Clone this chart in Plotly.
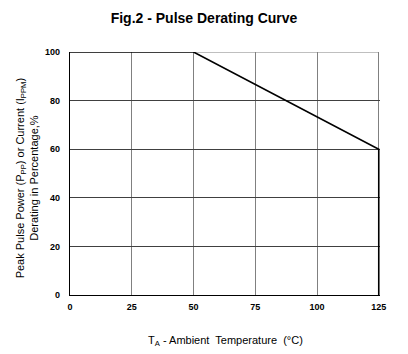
import plotly.graph_objects as go

temps = [0, 50, 125, 125]
derating = [100, 100, 60, 0]
x_ticks = [0, 25, 50, 75, 100, 125]
y_ticks = [0, 20, 40, 60, 80, 100]

fig = go.Figure()
fig.add_trace(go.Scatter(x=temps, y=derating, mode="lines",
                         line=dict(color="black", width=1.6), showlegend=False))

font = "Liberation Sans, Arial, sans-serif"
fig.update_layout(
    width=408, height=354,
    margin=dict(l=70, r=28, t=52, b=59),
    paper_bgcolor="white", plot_bgcolor="white",
    font=dict(family=font, color="black"),
    title=dict(text="<b>Fig.2 - Pulse Derating Curve</b>", x=0.5, xanchor="center",
               y=1 - 18/354, yanchor="middle", font=dict(size=14, family=font)),
    xaxis=dict(range=[0, 125.5], tickvals=x_ticks, ticktext=[f"<b>{v}</b>" for v in x_ticks],
               showgrid=True, gridcolor="#808080", gridwidth=1,
               showline=True, linecolor="black", linewidth=1.2, mirror=False,
               zeroline=False, ticks="", tickfont=dict(size=9, family=font),
               ticklabelstandoff=3),
    yaxis=dict(range=[0, 100], tickvals=y_ticks, ticktext=[f"<b>{v}</b>" for v in y_ticks],
               showgrid=True, gridcolor="#404040", gridwidth=1,
               showline=True, linecolor="black", linewidth=1.2,
               zeroline=False, ticks="", tickfont=dict(size=9, family=font),
               ticklabelstandoff=7),
    annotations=[
        dict(text="T<sub>A</sub> - Ambient  Temperature  (°C)", xref="paper", yref="paper",
             x=0.5, y=-46/243, xanchor="center", yanchor="middle", showarrow=False,
             font=dict(size=11, family=font)),
        dict(text="Peak Pulse Power (P<sub>PP</sub>) or Current (I<sub>PPM</sub>)<br>Derating in Percentage,%",
             xref="paper", yref="paper", x=-43/310, y=0.48, xanchor="center", yanchor="middle",
             textangle=-90, showarrow=False, font=dict(size=11, family=font)),
    ],
)
# gray top border of the grid beyond the curve
fig.add_shape(type="line", xref="x", yref="y", x0=50, x1=125, y0=100, y1=100,
              line=dict(color="#808080", width=1), layer="below")
fig.write_html("out.html")
